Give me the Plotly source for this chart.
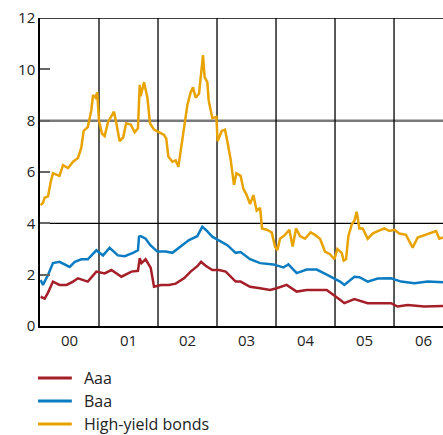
import plotly.graph_objects as go

# Time axis: years since start of 2000
aaa_t = [0.011, 0.079, 0.136, 0.22, 0.33, 0.45, 0.56, 0.644, 0.81, 0.955, 1.096, 1.21, 1.38, 1.55, 1.66, 1.69,
         1.72, 1.79, 1.877, 1.932, 2.05, 2.186, 2.3, 2.44, 2.553, 2.666, 2.73, 2.808, 2.92, 3.034, 3.147, 3.23,
         3.316, 3.4, 3.56, 3.73, 3.9, 4.01, 4.18, 4.35, 4.52, 4.69, 4.859, 5.085, 5.158, 5.328, 5.554, 5.78,
         5.949, 6.06, 6.23, 6.514, 6.83]
aaa_v = [1.14, 1.07, 1.3, 1.73, 1.6, 1.6, 1.73, 1.86, 1.73, 2.12, 2.05, 2.18, 1.92, 2.12, 2.15, 2.64,
         2.45, 2.6, 2.26, 1.53, 1.6, 1.6, 1.65, 1.86, 2.12, 2.33, 2.5, 2.35, 2.18, 2.18, 2.12, 1.92,
         1.73, 1.73, 1.53, 1.47, 1.4, 1.47, 1.6, 1.34, 1.4, 1.4, 1.4, 1.02, 0.89, 1.05, 0.89, 0.89,
         0.89, 0.76, 0.82, 0.76, 0.78]

baa_t = [0.011, 0.05, 0.136, 0.22, 0.33, 0.418, 0.503, 0.59, 0.7, 0.81, 0.955, 1.068, 1.18, 1.32, 1.435,
         1.576, 1.66, 1.678, 1.706, 1.79, 1.87, 1.99, 2.13, 2.243, 2.412, 2.525, 2.666, 2.75, 2.808, 2.92,
         3.06, 3.175, 3.316, 3.4, 3.56, 3.73, 3.955, 4.124, 4.21, 4.35, 4.52, 4.69, 4.859, 5.085, 5.158,
         5.328, 5.413, 5.554, 5.723, 5.949, 6.119, 6.345, 6.571, 6.797, 6.83]
baa_v = [1.79, 1.6, 1.99, 2.45, 2.5, 2.4, 2.3, 2.5, 2.6, 2.6, 2.95, 2.75, 3.05, 2.75, 2.72,
         2.85, 2.95, 3.48, 3.5, 3.4, 3.15, 2.9, 2.9, 2.85, 3.15, 3.35, 3.5, 3.87, 3.75, 3.48,
         3.3, 3.15, 2.85, 2.88, 2.6, 2.45, 2.4, 2.28, 2.4, 2.06, 2.2, 2.2, 2.0, 1.73, 1.6,
         1.92, 1.9, 1.73, 1.85, 1.86, 1.73, 1.67, 1.73, 1.72, 1.7]

hy_t = [0.011, 0.05, 0.079, 0.136, 0.18, 0.22, 0.277, 0.33, 0.39, 0.475, 0.56, 0.644, 0.7, 0.74, 0.81,
        0.87, 0.898, 0.94, 0.97, 1.0, 1.05, 1.096, 1.153, 1.21, 1.254, 1.294, 1.35, 1.41, 1.46, 1.537,
        1.605, 1.66, 1.69, 1.706, 1.763, 1.82, 1.864, 1.932, 2.017, 2.1, 2.14, 2.175, 2.243, 2.3, 2.345,
        2.384, 2.44, 2.497, 2.553, 2.593, 2.638, 2.695, 2.73, 2.763, 2.79, 2.836, 2.858, 2.92, 2.99, 3.01,
        3.08, 3.135, 3.175, 3.23, 3.288, 3.328, 3.4, 3.446, 3.503, 3.56, 3.616, 3.672, 3.73, 3.763, 3.842,
        3.927, 3.983, 4.023, 4.068, 4.153, 4.226, 4.282, 4.34, 4.407, 4.49, 4.587, 4.66, 4.746, 4.83, 4.915,
        4.989, 5.04, 5.113, 5.147, 5.187, 5.226, 5.283, 5.328, 5.367, 5.413, 5.469, 5.554, 5.638, 5.723,
        5.836, 5.921, 6.006, 6.09, 6.203, 6.26, 6.316, 6.401, 6.514, 6.627, 6.712, 6.768, 6.83]
hy_v = [4.71, 4.8, 5.0, 5.05, 5.6, 5.95, 5.9, 5.85, 6.27, 6.15, 6.4, 6.55, 6.95, 7.6, 7.75,
        8.4, 9.0, 8.9, 9.1, 8.0, 7.5, 7.4, 7.95, 8.2, 8.35, 7.9, 7.2, 7.35, 7.9, 7.85,
        7.55, 7.7, 9.4, 8.95, 9.5, 8.9, 7.9, 7.65, 7.55, 7.45, 7.3, 6.6, 6.4, 6.45, 6.2,
        6.9, 7.7, 8.6, 9.1, 9.3, 8.9, 9.05, 9.9, 10.55, 9.7, 9.5, 8.8, 8.1, 8.15, 7.2,
        7.6, 7.65, 7.2, 6.5, 5.5, 5.95, 5.85, 5.35, 5.1, 4.75, 5.1, 4.5, 4.6, 3.8, 3.75,
        3.65, 3.1, 2.95, 3.4, 3.55, 3.75, 3.1, 3.8, 3.5, 3.4, 3.65, 3.55, 3.4, 2.9, 2.8,
        2.6, 3.0, 2.85, 2.55, 2.6, 3.5, 3.95, 4.1, 4.45, 3.8, 3.8, 3.4, 3.6, 3.7,
        3.8, 3.7, 3.75, 3.6, 3.55, 3.3, 3.05, 3.45, 3.55, 3.65, 3.7, 3.4, 3.45]

series_names = ["Aaa", "Baa", "High-yield bonds"]
series_colors = ["#A51F29", "#0B7CC2", "#E8A300"]

year_pos = [0.5, 1.5, 2.5, 3.5, 4.5, 5.5, 6.5]
year_labels = ["00", "01", "02", "03", "04", "05", "06"]
year_breaks = [1, 2, 3, 4, 5, 6]
y_ticks = [0, 2, 4, 6, 8, 10, 12]

FONT = "'Open Sans', sans-serif"
TEXT = "#222"

fig = go.Figure()
for xs, ys, name, color in zip([aaa_t, baa_t, hy_t], [aaa_v, baa_v, hy_v], series_names, series_colors):
    fig.add_trace(go.Scatter(x=xs, y=ys, mode="lines", name=name,
                             line=dict(color=color, width=2.5)))

shapes = []
# Year separators and horizontal reference lines
for b in year_breaks:
    shapes.append(dict(type="line", xref="x", yref="y", x0=b, x1=b, y0=0, y1=12,
                       line=dict(color="black", width=1.3), layer="below"))
shapes.append(dict(type="line", xref="paper", yref="y", x0=0, x1=1, y0=4, y1=4,
                   line=dict(color="black", width=1.3), layer="below"))
shapes.append(dict(type="line", xref="paper", yref="y", x0=0, x1=1, y0=8, y1=8,
                   line=dict(color="#7a7a7a", width=2.5), layer="below"))
shapes.append(dict(type="line", xref="paper", yref="y", x0=0, x1=1, y0=12, y1=12,
                   line=dict(color="black", width=1.5)))

# Key below the chart
annotations = []
key_y = [-0.1688, -0.2435, -0.318]
for name, color, ky in zip(series_names, series_colors, key_y):
    shapes.append(dict(type="line", xref="paper", yref="paper", x0=-0.005, x1=0.079, y0=ky, y1=ky,
                       line=dict(color=color, width=3)))
    annotations.append(dict(xref="paper", yref="paper", x=0.104, y=ky, text=name,
                            showarrow=False, xanchor="left", yanchor="middle",
                            font=dict(family=FONT, size=16, color=TEXT)))

fig.update_layout(
    width=443, height=435,
    margin=dict(l=40, r=0, t=18, b=109),
    paper_bgcolor="white", plot_bgcolor="white",
    font=dict(family=FONT, size=15, color=TEXT),
    shapes=shapes,
    annotations=annotations,
    showlegend=False,
    xaxis=dict(range=[0, 6.83], tickvals=year_pos, ticktext=year_labels,
               showgrid=False, zeroline=False, ticks="",
               showline=True, linecolor="black", linewidth=2,
               tickfont=dict(size=15, color=TEXT)),
    yaxis=dict(range=[0, 12], tickvals=y_ticks, showgrid=False, zeroline=False,
               ticks="inside", ticklen=10, tickcolor="#666", tickwidth=1.5,
               showline=True, linecolor="black", linewidth=1.5,
               tickfont=dict(size=15, color=TEXT)),
)

fig.write_html("out.html")
